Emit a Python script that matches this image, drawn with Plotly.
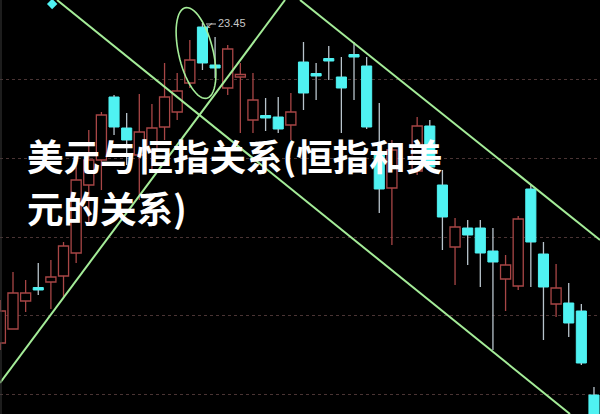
import math
import plotly.graph_objects as go

# ---- data (index positions, prices) ----
idx = list(range(-1, 47))
opens = [20.25, 20.39, 20.67, 20.80, 20.86, 20.92, 21.15, 21.83, 22.08, 22.71, 22.40, 22.13, 22.18,
         22.41, 22.56, 22.85, 23.41, 23.03, 22.80, 22.91, 22.48, 22.52, 22.51, 22.43, 23.06, 22.94,
         23.09, 22.91, 23.13, 23.02, 22.16, 21.80, None, 21.97, 22.42, 21.83, 21.21, 21.40, 21.40,
         21.17, 20.89, 20.82, 21.79, 21.14, 20.64, 20.65, 20.57, 19.73]
highs = [20.68, 20.96, 20.88, 21.05, 21.08, 21.26, 22.03, 22.38, 22.56, 22.73, 22.55, 22.74, 22.64,
         23.05, 22.95, 23.28, 23.45, 23.31, 23.23, 23.05, 22.95, 22.70, 22.71, 22.75, 23.26, 23.05,
         23.22, 23.11, 23.26, 23.11, 22.65, 22.28, None, 22.51, 22.48, 21.98, 21.50, 21.48, 21.48,
         21.40, 21.13, 21.52, 21.83, 21.26, 21.04, 20.85, 20.64, 19.81]
lows = [20.18, 20.39, 20.56, 20.73, 20.59, 20.71, 21.05, 21.43, 21.78, 22.33, 22.03, 21.68, 21.96,
        22.28, 22.48, 22.80, 22.98, 22.90, 22.73, 22.35, 22.35, 22.37, 22.35, 22.28, 22.58, 22.68,
        22.88, 22.35, 22.68, 22.39, 21.55, 21.23, None, 21.93, 21.98, 21.18, 20.83, 21.03, 20.81,
        20.18, 20.57, 20.78, 20.81, 20.28, 20.51, 20.31, 20.03, 19.28]
closes = [20.57, 20.75, 20.75, 20.78, 20.91, 21.22, 21.88, 22.08, 22.53, 22.41, 22.28, 22.36, 22.40,
          22.71, 22.77, 23.08, 23.05, 23.00, 23.19, 22.93, 22.68, 22.50, 22.39, 22.56, 22.75, 22.92,
          23.07, 22.80, 23.11, 22.41, 21.79, 22.18, None, 22.42, 22.01, 21.51, 21.41, 21.33, 21.15,
          21.06, 21.03, 21.49, 21.26, 20.81, 20.80, 20.45, 20.05, 19.38]

peak_label = "23.45"
marker_x = [3.1]
marker_y = [23.64]
gridline_prices = [22.89, 22.10, 21.31, 20.53, 19.74]

title_line1 = "美元与恒指关系(恒指和美"
title_line2 = "元的关系)"

# ---- styles ----
RED = "#a84646"
CYAN = "#4ff2f2"
CYAN_WICK = "#b8c4cc"
GREEN = "#a4ec98"
BODY_W = 0.8
MIN_BODY = 0.025

up = dict(x=[], base=[], h=[])
dn = dict(x=[], base=[], h=[])
wick_up_x, wick_up_y, wick_dn_x, wick_dn_y = [], [], [], []
for i, o, h, l, c in zip(idx, opens, highs, lows, closes):
    if o is None:
        continue
    top, bot = max(o, c), min(o, c)
    hh = max(top - bot, MIN_BODY)
    rising = c > o
    tgt = up if rising else dn
    tgt["x"].append(i)
    tgt["base"].append(bot)
    tgt["h"].append(hh)
    wx, wy = (wick_up_x, wick_up_y) if rising else (wick_dn_x, wick_dn_y)
    wx += [i, i, None, i, i, None]
    wy += [bot + hh, h, None, l, bot, None]

fig = go.Figure()
fig.add_trace(go.Scatter(x=wick_up_x, y=wick_up_y, mode="lines",
                         line=dict(color=RED, width=1.3), hoverinfo="skip"))
fig.add_trace(go.Scatter(x=wick_dn_x, y=wick_dn_y, mode="lines",
                         line=dict(color=CYAN_WICK, width=1.3), hoverinfo="skip"))
fig.add_trace(go.Bar(x=up["x"], y=up["h"], base=up["base"], width=BODY_W,
                     marker=dict(color="#000000", line=dict(color=RED, width=1.3))))
fig.add_trace(go.Bar(x=dn["x"], y=dn["h"], base=dn["base"], width=BODY_W,
                     marker=dict(color=CYAN, line=dict(color=CYAN, width=1))))
fig.add_trace(go.Scatter(x=marker_x, y=marker_y, mode="markers",
                         marker=dict(symbol="diamond", size=8, color=CYAN)))

W, H = 600, 414
def px(x):
    return x / W
def py(y):
    return 1 - y / H

shapes = []
# trend lines (pixel endpoints -> paper coords)
for (x0, y0, x1, y1) in [(57, 0, 570, 414), (300, 0, 600, 240), (0, 383, 285, 0)]:
    shapes.append(dict(type="line", xref="paper", yref="paper", x0=px(x0), y0=py(y0),
                       x1=px(x1), y1=py(y1), line=dict(color=GREEN, width=2), layer="above"))
# tilted ellipse around the peak
cx, cy, a, b = 196, 53, 46, 18.5
tilt = math.radians(10)
pts = []
for k in range(61):
    t = 2 * math.pi * k / 60
    ex, ey = b * math.cos(t), a * math.sin(t)
    X = cx + ex * math.cos(tilt) + ey * math.sin(tilt)
    Y = cy + ex * math.sin(tilt) + ey * math.cos(tilt)
    pts.append((px(X), py(Y)))
path = "M " + " L ".join(f"{x:.4f},{y:.4f}" for x, y in pts) + " Z"
shapes.append(dict(type="path", xref="paper", yref="paper", path=path,
                   line=dict(color=GREEN, width=1.6), layer="above"))
# small arrow pointing at the peak
shapes.append(dict(type="line", xref="paper", yref="paper", x0=px(206), y0=py(24),
                   x1=px(216), y1=py(24), line=dict(color="#c8c8c8", width=1)))
# thin frame line on the left edge
shapes.append(dict(type="line", xref="paper", yref="paper", x0=px(1), y0=0, x1=px(1), y1=1,
                   line=dict(color="#3a3a3a", width=1)))

annotations = [
    dict(x=px(204), y=py(24), xref="paper", yref="paper", text="↙", showarrow=False,
         font=dict(size=9, color="#c8c8c8"), xanchor="left", yanchor="middle"),
    dict(x=px(216), y=py(23), xref="paper", yref="paper", text=peak_label, showarrow=False,
         font=dict(size=11, color="#c8c8c8", family="Liberation Sans"), xanchor="left", yanchor="middle"),
    dict(x=px(25), y=py(155), xref="paper", yref="paper", text="<b>" + title_line1 + "</b>",
         showarrow=False, font=dict(size=36.5, color="#ffffff", family="Noto Sans CJK SC"),
         xanchor="left", yanchor="middle"),
    dict(x=px(25), y=py(207), xref="paper", yref="paper", text="<b>" + title_line2 + "</b>",
         showarrow=False, font=dict(size=36.5, color="#ffffff", family="Noto Sans CJK SC"),
         xanchor="left", yanchor="middle"),
]

x_left = (0 - 13) / 12.63
x_right = (600 - 13) / 12.63
fig.update_layout(
    width=W, height=H, margin=dict(l=0, r=0, t=0, b=0),
    paper_bgcolor="#000000", plot_bgcolor="#000000",
    showlegend=False, barmode="overlay", hovermode=False,
    shapes=shapes, annotations=annotations,
    xaxis=dict(range=[x_left, x_right], visible=False, fixedrange=True),
    yaxis=dict(range=[19.54, 23.68], tickvals=gridline_prices, showticklabels=False,
               showgrid=True, gridcolor="#4a3434", griddash="dot", gridwidth=1,
               zeroline=False, ticks="", showline=False, fixedrange=True),
)
fig.write_html("out.html", config={"displayModeBar": False})

with open("out.html", encoding="utf-8") as f:
    html = f.read()
html = html.replace("<head>", "<head><style>html,body{margin:0;padding:0;background:#000;overflow:hidden}</style>", 1)
with open("out.html", "w", encoding="utf-8") as f:
    f.write(html)
